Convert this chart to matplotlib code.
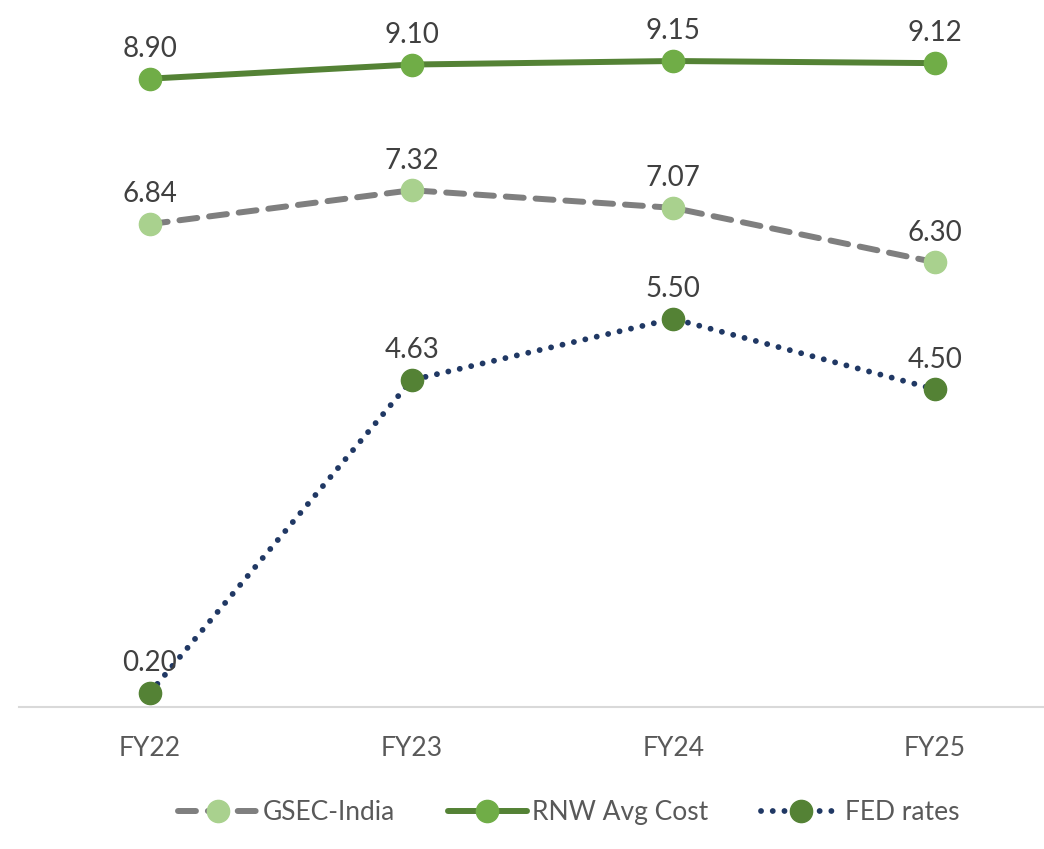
import matplotlib.pyplot as plt

plt.rcParams['font.family'] = ['Lato', 'DejaVu Sans']

years = ["FY22", "FY23", "FY24", "FY25"]
gsec_india = [6.84, 7.32, 7.07, 6.30]
rnw_avg_cost = [8.90, 9.10, 9.15, 9.12]
fed_rates = [0.20, 4.63, 5.50, 4.50]

fig = plt.figure(figsize=(10.44, 8.49), dpi=100)
ax = fig.add_axes([19 / 1044, 1 - 707 / 849, 1 - 19 / 1044, 706 / 849])

x = range(len(years))
ax.plot(x, gsec_india, color="#7F7F7F", lw=4.3, ls=(0, (3, 2)), dash_capstyle="round",
        marker="o", ms=16, mfc="#A9D18E", mec="#A9D18E", label="GSEC-India")
ax.plot(x, rnw_avg_cost, color="#548235", lw=4.3, solid_capstyle="round",
        marker="o", ms=16, mfc="#70AD47", mec="#70AD47", label="RNW Avg Cost")
ax.plot(x, fed_rates, color="#203864", lw=4.2, ls=(0, (0.01, 2.0)), dash_capstyle="round",
        marker="o", ms=16, mfc="#548235", mec="#548235", label="FED rates")

for series in (gsec_india, rnw_avg_cost, fed_rates):
    for i, v in enumerate(series):
        ax.annotate(f"{v:.2f}", (i, v), xytext=(0, 12), textcoords="offset points",
                    ha="center", va="bottom", fontsize=20, color="#404040")

ax.set_xlim(-0.5, 3 + 109 / 261.7)
ax.set_ylim(0, 10)
ax.set_xticks(list(x))
ax.set_xticklabels(years, fontsize=19, color="#595959")
ax.tick_params(axis="x", length=0, pad=21)
ax.set_yticks([])
for side in ("top", "right", "left"):
    ax.spines[side].set_visible(False)
ax.spines["bottom"].set_color("#D9D9D9")
ax.spines["bottom"].set_linewidth(1.5)

fig.legend(loc="lower center", bbox_to_anchor=(0.545, 0.0), ncol=3, frameon=False,
           fontsize=19, labelcolor="#595959", handlelength=3.0, columnspacing=2.0,
           handletextpad=0.2)

fig.savefig("out.png", dpi=100)
